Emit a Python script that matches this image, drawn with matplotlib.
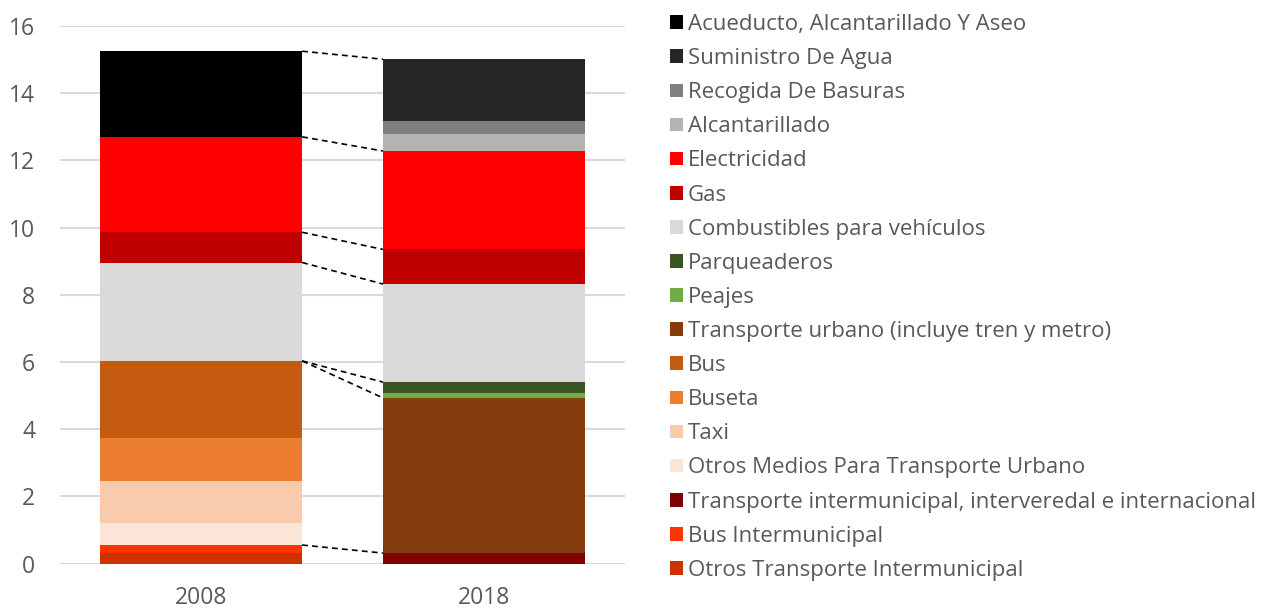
import matplotlib.pyplot as plt
import numpy as np

plt.rcParams['font.family'] = ['Open Sans', 'DejaVu Sans']

years = ['2008', '2018']

# stack order, bottom to top
categories = ['Otros Transporte Intermunicipal',
              'Bus Intermunicipal',
              'Transporte intermunicipal, interveredal e internacional',
              'Otros Medios Para Transporte Urbano',
              'Taxi',
              'Buseta',
              'Bus',
              'Transporte urbano (incluye tren y metro)',
              'Peajes',
              'Parqueaderos',
              'Combustibles para vehículos',
              'Gas',
              'Electricidad',
              'Alcantarillado',
              'Recogida De Basuras',
              'Suministro De Agua',
              'Acueducto, Alcantarillado Y Aseo']
v2008 = [0.31, 0.24, 0.0, 0.66, 1.25, 1.28, 2.29, 0.0, 0.0, 0.0,
         2.93, 0.90, 2.84, 0.0, 0.0, 0.0, 2.55]
v2018 = [0.0, 0.0, 0.31, 0.0, 0.0, 0.0, 0.0, 4.62, 0.14, 0.33,
         2.92, 1.03, 2.93, 0.50, 0.39, 1.84, 0.0]
colors = ['#cc3300', '#ff3300', '#7f0000', '#fbe5d6', '#f8cbad', '#ed7d31',
          '#c55a11', '#843c0c', '#70ad47', '#375623', '#d9d9d9', '#c00000',
          '#ff0000', '#b4b4b4', '#7f7f7f', '#262626', '#000000']

# series lines: (category top in 2008, category top in 2018)
links = [(16, 16), (12, 12), (11, 11), (10, 10), (6, 9), (6, 7), (1, 2)]

fig = plt.figure(figsize=(12.74, 6.09), dpi=100)
ax = fig.add_axes([0.0471, 0.0747, 0.4435, 0.8826])

x = np.arange(len(years))
width = 0.714
data = np.array([v2008, v2018])
bottom = np.zeros(len(years))
handles = []
for i, cat in enumerate(categories):
    b = ax.bar(x, data[:, i], width, bottom=bottom, color=colors[i],
               label=cat, linewidth=0, zorder=3)
    handles.append(b)
    bottom += data[:, i]

cum = np.cumsum(data, axis=1)
for a, b in links:
    ax.plot([x[0] + width / 2, x[1] - width / 2], [cum[0, a], cum[1, b]],
            color='black', lw=1.2, dashes=(3.5, 2.5), zorder=4)

ax.set_xlim(-0.5, 1.5)
ax.set_ylim(0, 16)
ax.set_yticks(np.arange(0, 17, 2))
ax.set_xticks(x)
ax.set_xticklabels(years)
ax.grid(axis='y', color='#d9d9d9', lw=1.5, zorder=0)
ax.set_axisbelow(True)
for s in ax.spines.values():
    s.set_visible(False)
ax.tick_params(axis='y', length=0, pad=18, labelsize=16.5, colors='#595959')
ax.tick_params(axis='x', length=0, pad=16, labelsize=16.5, colors='#595959')

fig.legend(handles[::-1], categories[::-1], loc='upper left',
           bbox_to_anchor=(670 / 1274, 1 - 14 / 609), frameon=False,
           fontsize=16, handlelength=0.57, handleheight=0.57,
           handletextpad=0.23, labelspacing=0.59, borderpad=0,
           borderaxespad=0, labelcolor='#595959')

fig.savefig('out.png', dpi=100)
